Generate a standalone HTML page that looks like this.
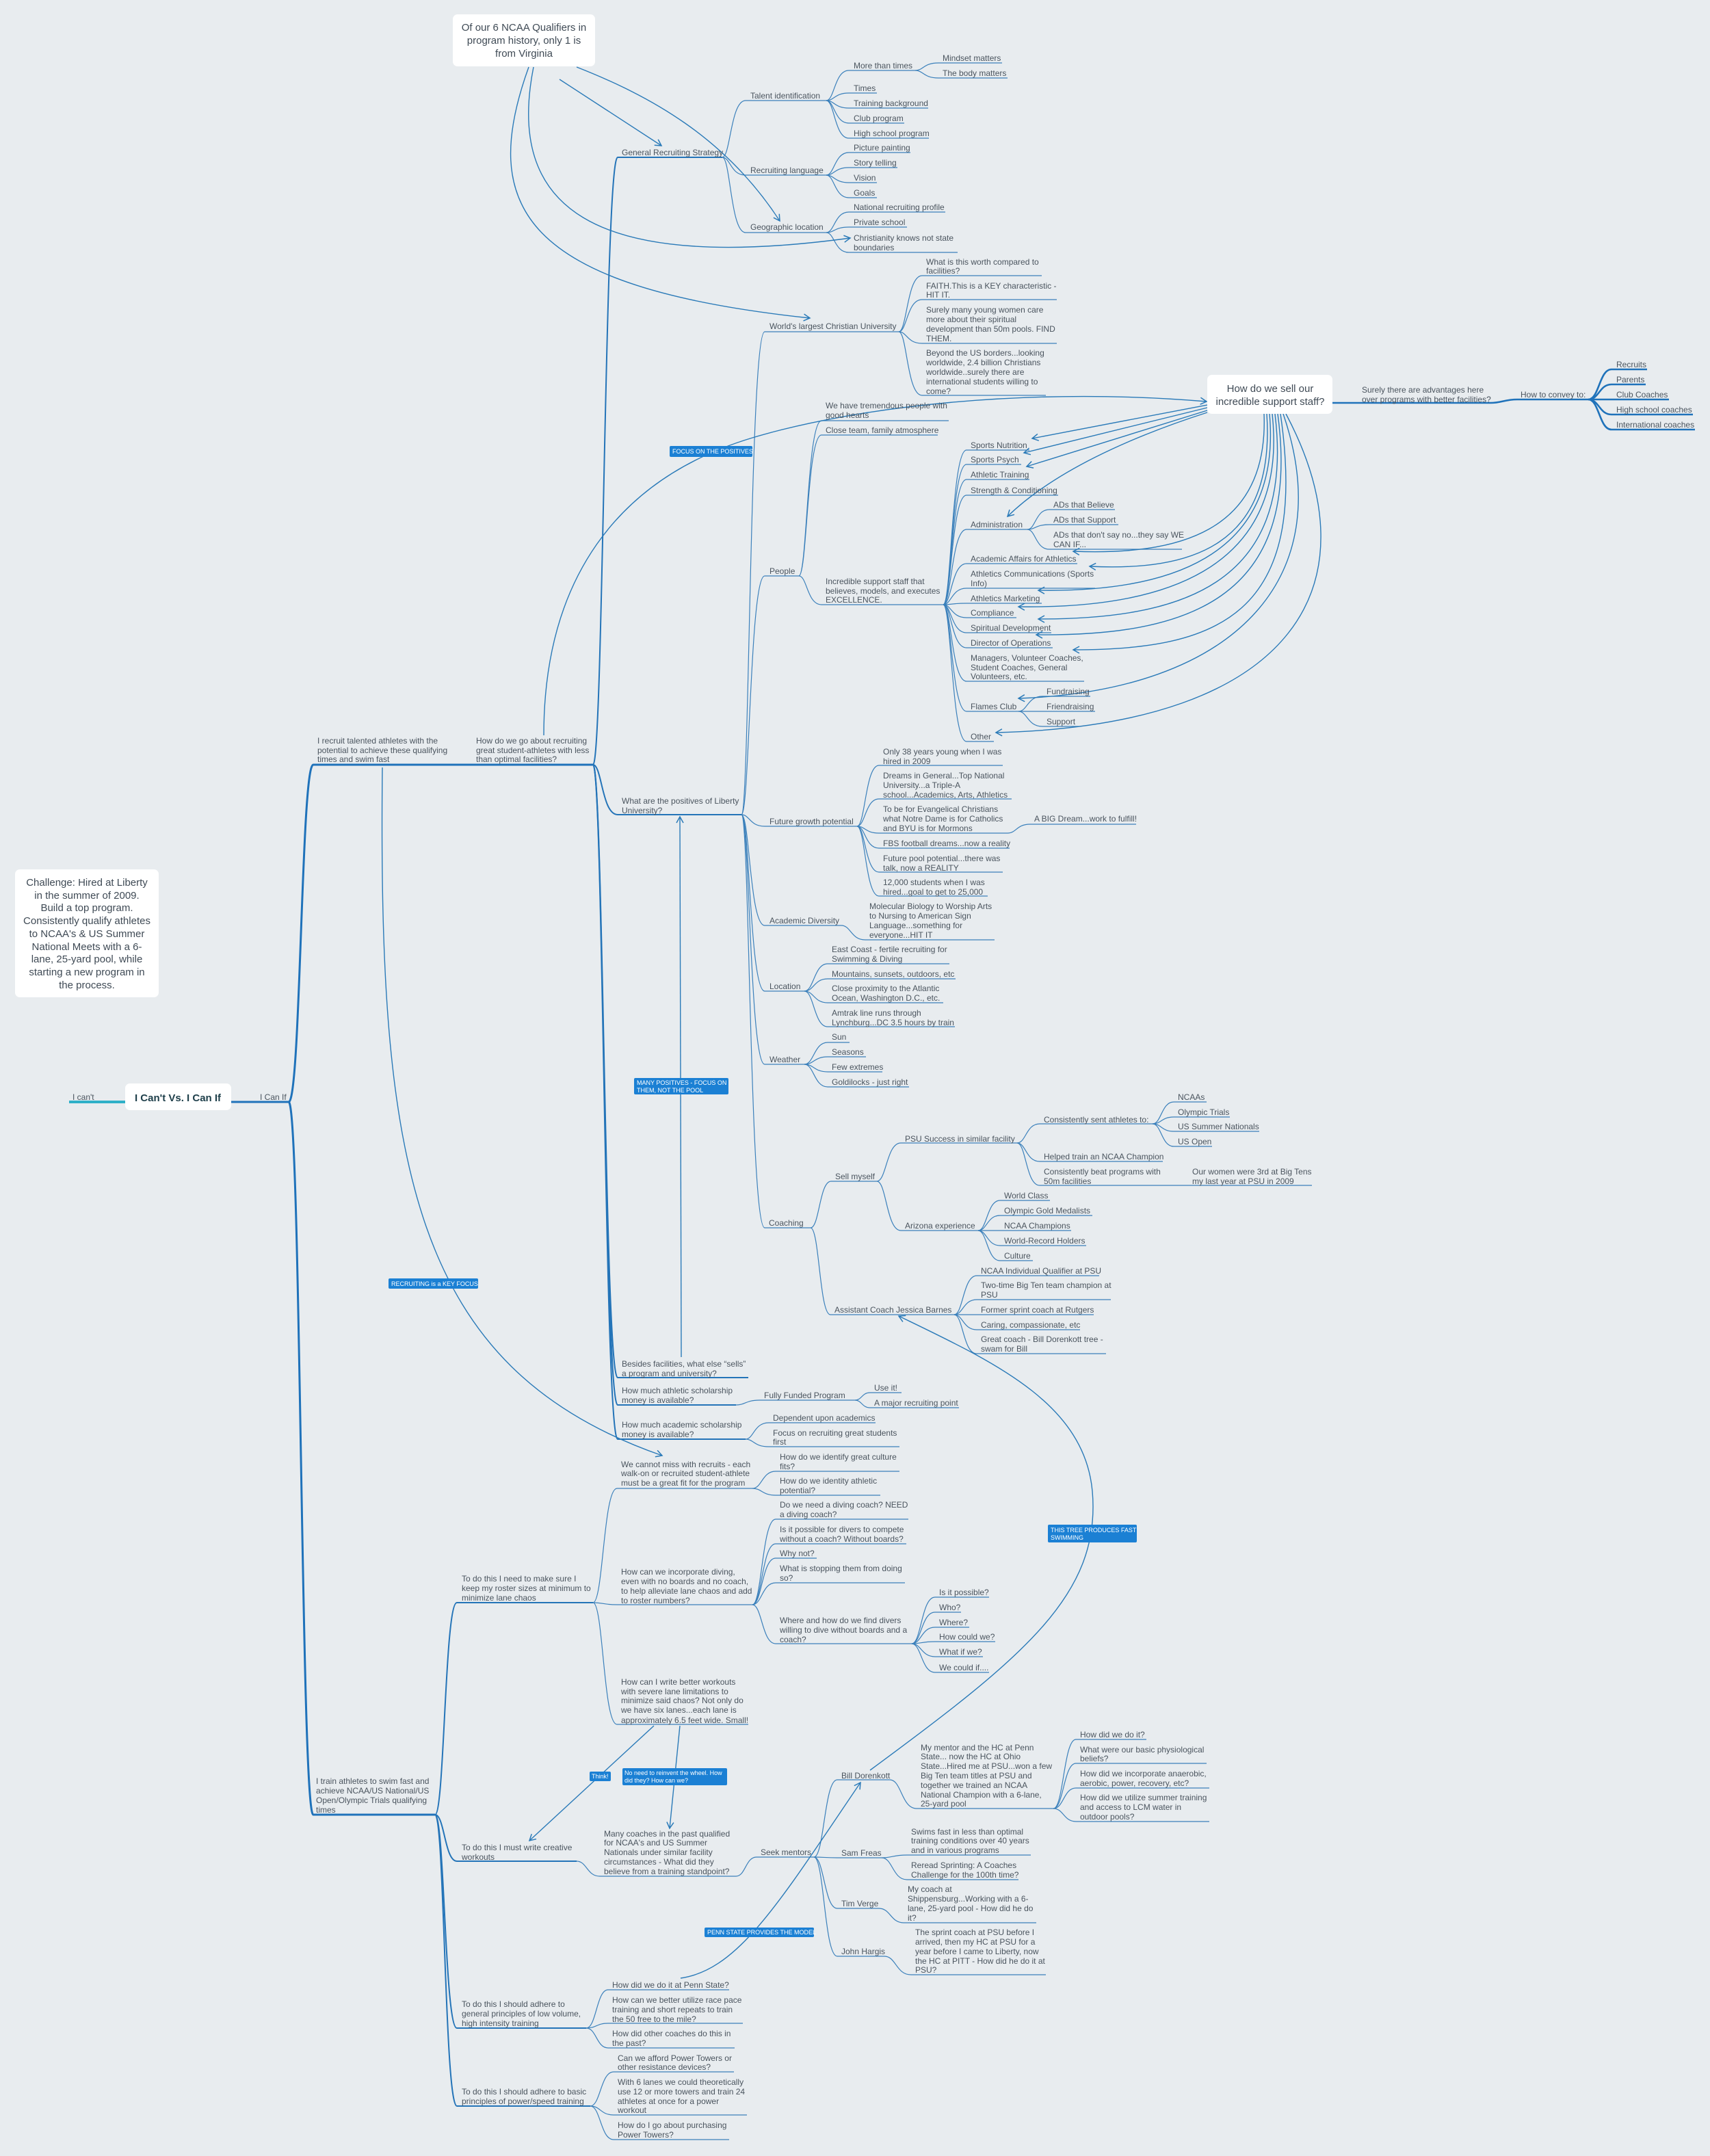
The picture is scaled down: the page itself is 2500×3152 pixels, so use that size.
<!DOCTYPE html>
<html><head><meta charset="utf-8"><style>
html,body{margin:0;padding:0;background:#e8ecef;}
svg{display:block}
.t{font-family:"Liberation Sans",Arial,sans-serif;font-size:12px;fill:#4a545e}
.l{fill:none;stroke:#3b80bb;stroke-width:1.2}
.m{fill:none;stroke:#2474b8;stroke-width:2}
.k{fill:none;stroke:#1f72ba;stroke-width:3}
.a{fill:none;stroke:#2a7ab8;stroke-width:1.4;marker-end:url(#ar)}
.tag{fill:#1b80d4}
.tt{font-family:"Liberation Sans",Arial,sans-serif;font-size:9px;fill:#fff}
.bx{fill:#fff}
.bt{font-family:"Liberation Sans",Arial,sans-serif;font-size:15px;fill:#3f4a55}
</style></head><body>
<svg width="2500" height="3152" viewBox="0 0 2500 3152" xmlns="http://www.w3.org/2000/svg">
<defs><marker id="ar" viewBox="0 0 12 12" refX="10" refY="6" markerWidth="12" markerHeight="12" markerUnits="userSpaceOnUse" orient="auto"><path d="M1,1 L10,6 L1,11" fill="none" stroke="#2a7ab8" stroke-width="1.5"/></marker></defs>
<rect width="2500" height="3152" fill="#e8ecef"/>

<!-- trunk -->
<path d="M101 1611 H183" stroke="#2eb0c8" stroke-width="4" fill="none"/>
<path class="k" d="M338 1611 H422"/>
<path class="k" d="M422 1611 C440 1611 440 1118 458 1118 H867"/>
<path class="k" d="M422 1611 C440 1611 440 2653 458 2653 H636"/>

<!-- level 2 from How do we go about -->
<path class="m" d="M867 1118 C882 1118 884 230 903 230 H1056"/>
<path class="m" d="M867 1118 C880 1118 880 1191 903 1191 H1084"/>
<path class="m" d="M867 1118 C882 1118 884 2014 903 2014 H1094"/>
<path class="m" d="M867 1118 C882 1118 884 2054 903 2054 H1076"/>
<path class="m" d="M867 1118 C882 1118 884 2104 903 2104 H1090"/>

<!-- GRS subtree -->
<g class="l">
<path d="M1056 230 C1068 230 1068 147 1090 147 H1208"/>
<path d="M1056 230 C1068 230 1068 256 1090 256 H1208"/>
<path d="M1056 230 C1068 230 1068 340 1090 340 H1208"/>
<path d="M1208 147 C1220 147 1220 103 1241 103 H1338"/>
<path d="M1208 147 C1220 147 1220 136 1241 136 H1282"/>
<path d="M1208 147 C1220 147 1220 158 1241 158 H1357"/>
<path d="M1208 147 C1220 147 1220 180 1241 180 H1322"/>
<path d="M1208 147 C1220 147 1220 202 1241 202 H1358"/>
<path d="M1338 103 C1350 103 1350 92 1372 92 H1465"/>
<path d="M1338 103 C1350 103 1350 114 1372 114 H1473"/>
<path d="M1208 256 C1220 256 1220 223 1241 223 H1331"/>
<path d="M1208 256 C1220 256 1220 245 1241 245 H1312"/>
<path d="M1208 256 C1220 256 1220 267 1241 267 H1282"/>
<path d="M1208 256 C1220 256 1220 289 1241 289 H1282"/>
<path d="M1208 340 C1220 340 1220 310 1241 310 H1382"/>
<path d="M1208 340 C1220 340 1220 332 1241 332 H1326"/>
<path d="M1208 340 C1220 340 1220 369 1241 369 H1400"/>
</g>

<!-- Positives subtree -->
<g class="l">
<path d="M1084 1191 C1096 1191 1096 485 1118 485 H1314"/>
<path d="M1084 1191 C1096 1191 1096 842 1118 842 H1168"/>
<path d="M1084 1191 C1096 1191 1096 1208 1118 1208 H1253"/>
<path d="M1084 1191 C1096 1191 1096 1353 1118 1353 H1230"/>
<path d="M1084 1191 C1096 1191 1096 1449 1118 1449 H1176"/>
<path d="M1084 1191 C1096 1191 1096 1556 1118 1556 H1176"/>
<path d="M1084 1191 C1096 1191 1096 1795 1118 1795 H1185"/>
<path d="M1314 485 C1326 485 1326 403 1348 403 H1523"/>
<path d="M1314 485 C1326 485 1326 438 1348 438 H1545"/>
<path d="M1314 485 C1326 485 1326 502 1348 502 H1545"/>
<path d="M1314 485 C1326 485 1326 578 1348 578 H1529"/>
<path d="M1168 842 C1180 842 1180 615 1201 615 H1387"/>
<path d="M1168 842 C1180 842 1180 636 1201 636 H1371"/>
<path d="M1168 842 C1180 842 1180 884 1201 884 H1379"/>
<path d="M1379 884 C1391 884 1391 658 1413 658 H1505"/>
<path d="M1379 884 C1391 884 1391 679 1413 679 H1493"/>
<path d="M1379 884 C1391 884 1391 701 1413 701 H1505"/>
<path d="M1379 884 C1391 884 1391 724 1413 724 H1547"/>
<path d="M1379 884 C1391 884 1391 774 1413 774 H1502"/>
<path d="M1379 884 C1391 884 1391 824 1413 824 H1575"/>
<path d="M1379 884 C1391 884 1391 860 1413 860 H1601"/>
<path d="M1379 884 C1391 884 1391 882 1413 882 H1523"/>
<path d="M1379 884 C1391 884 1391 903 1413 903 H1486"/>
<path d="M1379 884 C1391 884 1391 925 1413 925 H1537"/>
<path d="M1379 884 C1391 884 1391 947 1413 947 H1539"/>
<path d="M1379 884 C1391 884 1391 996 1413 996 H1585"/>
<path d="M1379 884 C1391 884 1391 1040 1413 1040 H1489"/>
<path d="M1379 884 C1391 884 1391 1084 1413 1084 H1453"/>
<path d="M1502 774 C1514 774 1514 745 1534 745 H1630"/>
<path d="M1502 774 C1514 774 1514 767 1534 767 H1635"/>
<path d="M1502 774 C1514 774 1514 803 1534 803 H1728"/>
<path d="M1489 1040 C1502 1040 1502 1018 1524 1018 H1594"/>
<path d="M1489 1040 C1502 1040 1502 1040 1524 1040 H1601"/>
<path d="M1489 1040 C1502 1040 1502 1062 1524 1062 H1577"/>
<path d="M1253 1208 C1265 1208 1265 1119 1285 1119 H1466"/>
<path d="M1253 1208 C1265 1208 1265 1168 1285 1168 H1479"/>
<path d="M1253 1208 C1265 1208 1265 1218 1285 1218 H1473"/>
<path d="M1253 1208 C1265 1208 1265 1240 1285 1240 H1476"/>
<path d="M1253 1208 C1265 1208 1265 1275 1285 1275 H1466"/>
<path d="M1253 1208 C1265 1208 1265 1310 1285 1310 H1444"/>
<path d="M1473 1218 C1486 1218 1486 1205 1506 1205 H1661"/>
<path d="M1230 1353 C1244 1353 1244 1374 1265 1374 H1454"/>
<path d="M1176 1449 C1190 1449 1190 1409 1210 1409 H1388"/>
<path d="M1176 1449 C1190 1449 1190 1431 1210 1431 H1397"/>
<path d="M1176 1449 C1190 1449 1190 1466 1210 1466 H1379"/>
<path d="M1176 1449 C1190 1449 1190 1501 1210 1501 H1396"/>
<path d="M1176 1556 C1190 1556 1190 1524 1210 1524 H1242"/>
<path d="M1176 1556 C1190 1556 1190 1545 1210 1545 H1266"/>
<path d="M1176 1556 C1190 1556 1190 1567 1210 1567 H1290"/>
<path d="M1176 1556 C1190 1556 1190 1589 1210 1589 H1329"/>
<path d="M1185 1795 C1198 1795 1198 1727 1215 1727 H1282"/>
<path d="M1185 1795 C1198 1795 1198 1922 1214 1922 H1395"/>
<path d="M1282 1727 C1296 1727 1296 1671 1317 1671 H1487"/>
<path d="M1282 1727 C1296 1727 1296 1799 1317 1799 H1430"/>
<path d="M1487 1671 C1500 1671 1500 1643 1520 1643 H1685"/>
<path d="M1487 1671 C1500 1671 1500 1698 1520 1698 H1700"/>
<path d="M1487 1671 C1500 1671 1500 1733 1520 1733 H1918"/>
<path d="M1685 1643 C1698 1643 1698 1611 1716 1611 H1764"/>
<path d="M1685 1643 C1698 1643 1698 1633 1716 1633 H1798"/>
<path d="M1685 1643 C1698 1643 1698 1654 1716 1654 H1841"/>
<path d="M1685 1643 C1698 1643 1698 1676 1716 1676 H1772"/>
<path d="M1430 1799 C1443 1799 1443 1755 1462 1755 H1535"/>
<path d="M1430 1799 C1443 1799 1443 1777 1462 1777 H1597"/>
<path d="M1430 1799 C1443 1799 1443 1799 1462 1799 H1566"/>
<path d="M1430 1799 C1443 1799 1443 1821 1462 1821 H1588"/>
<path d="M1430 1799 C1443 1799 1443 1843 1462 1843 H1510"/>
<path d="M1395 1922 C1408 1922 1408 1865 1428 1865 H1607"/>
<path d="M1395 1922 C1408 1922 1408 1900 1428 1900 H1624"/>
<path d="M1395 1922 C1408 1922 1408 1922 1428 1922 H1599"/>
<path d="M1395 1922 C1408 1922 1408 1944 1428 1944 H1579"/>
<path d="M1395 1922 C1408 1922 1408 1979 1428 1979 H1617"/>
<path d="M1076 2054 C1090 2054 1090 2047 1110 2047 H1250"/>
<path d="M1250 2047 C1260 2047 1260 2036 1272 2036 H1318"/>
<path d="M1250 2047 C1260 2047 1260 2058 1272 2058 H1402"/>
<path d="M1090 2104 C1102 2104 1102 2080 1124 2080 H1280"/>
<path d="M1090 2104 C1102 2104 1102 2115 1124 2115 H1315"/>
</g>

<!-- I train subtree -->
<g class="m">
<path d="M636 2653 C650 2653 650 2343 668 2343 H867"/>
<path d="M636 2653 C650 2653 650 2721 668 2721 H843"/>
<path d="M636 2653 C650 2653 650 2965 668 2965 H857"/>
<path d="M636 2653 C650 2653 650 3079 668 3079 H863"/>
</g>
<g class="l">
<path d="M867 2343 C882 2343 882 2176 902 2176 H1100"/>
<path d="M867 2343 C882 2343 882 2346 902 2346 H1100"/>
<path d="M867 2343 C882 2343 882 2521 902 2521 H1094"/>
<path d="M1100 2176 C1114 2176 1114 2151 1134 2151 H1315"/>
<path d="M1100 2176 C1114 2176 1114 2186 1134 2186 H1287"/>
<path d="M1100 2346 C1114 2346 1114 2221 1134 2221 H1328"/>
<path d="M1100 2346 C1114 2346 1114 2257 1134 2257 H1325"/>
<path d="M1100 2346 C1114 2346 1114 2278 1134 2278 H1194"/>
<path d="M1100 2346 C1114 2346 1114 2314 1134 2314 H1323"/>
<path d="M1100 2346 C1114 2346 1114 2403 1134 2403 H1333"/>
<path d="M1333 2403 C1347 2403 1347 2335 1367 2335 H1446"/>
<path d="M1333 2403 C1347 2403 1347 2357 1367 2357 H1405"/>
<path d="M1333 2403 C1347 2403 1347 2379 1367 2379 H1417"/>
<path d="M1333 2403 C1347 2403 1347 2400 1367 2400 H1455"/>
<path d="M1333 2403 C1347 2403 1347 2422 1367 2422 H1437"/>
<path d="M1333 2403 C1347 2403 1347 2445 1367 2445 H1446"/>
<path d="M843 2721 C858 2721 858 2743 877 2743 H1076"/>
<path d="M1076 2743 C1090 2743 1090 2715 1106 2715 H1190"/>
<path d="M1190 2715 C1205 2715 1205 2602 1224 2602 H1301"/>
<path d="M1190 2715 C1205 2715 1205 2716 1224 2716 H1289"/>
<path d="M1190 2715 C1205 2715 1205 2790 1224 2790 H1285"/>
<path d="M1190 2715 C1205 2715 1205 2860 1224 2860 H1293"/>
<path d="M1301 2602 C1318 2602 1318 2644 1340 2644 H1540"/>
<path d="M1540 2644 C1555 2644 1555 2543 1573 2543 H1676"/>
<path d="M1540 2644 C1555 2644 1555 2578 1573 2578 H1764"/>
<path d="M1540 2644 C1555 2644 1555 2614 1573 2614 H1768"/>
<path d="M1540 2644 C1555 2644 1555 2663 1573 2663 H1768"/>
<path d="M1289 2716 C1305 2716 1305 2712 1326 2712 H1507"/>
<path d="M1289 2716 C1305 2716 1305 2748 1326 2748 H1489"/>
<path d="M1285 2790 C1302 2790 1302 2811 1321 2811 H1515"/>
<path d="M1293 2860 C1310 2860 1310 2887 1332 2887 H1529"/>
<path d="M857 2965 C872 2965 872 2909 889 2909 H1066"/>
<path d="M857 2965 C872 2965 872 2958 889 2958 H1086"/>
<path d="M857 2965 C872 2965 872 2994 889 2994 H1074"/>
<path d="M863 3079 C878 3079 878 3029 897 3029 H1073"/>
<path d="M863 3079 C878 3079 878 3092 897 3092 H1092"/>
<path d="M863 3079 C878 3079 878 3128 897 3128 H1066"/>
</g>

<!-- sell subtree -->
<g class="k" style="stroke-width:2.6">
<path d="M1948 589 H2179 C2195 589 2200 584 2218 584 H2322"/>
<path d="M2322 584 C2338 584 2338 540 2356 540 H2408"/>
<path d="M2322 584 C2338 584 2338 562 2356 562 H2406"/>
<path d="M2322 584 H2440"/>
<path d="M2322 584 C2338 584 2338 606 2356 606 H2475"/>
<path d="M2322 584 C2338 584 2338 628 2356 628 H2478"/>
</g>

<!-- arrows -->
<g class="a">
<path d="M818 116 L967 213"/>
<path d="M843 98 C950 140 1060 200 1140 323"/>
<path d="M780 98 C740 300 860 400 1243 348"/>
<path d="M773 98 C700 300 760 420 1184 465"/>
<path d="M795 1075 C795 850 900 700 1100 640 C1250 595 1500 565 1764 587"/>
<path d="M1765 592 L1509 641"/>
<path d="M1765 596 L1497 662"/>
<path d="M1765 600 L1501 682"/>
<path d="M1765 603 C1650 640 1540 690 1473 755"/>
<path d="M1848 605 C1855 780 1720 812 1569 806"/>
<path d="M1852 605 C1865 800 1740 835 1593 828"/>
<path d="M1856 605 C1875 820 1700 866 1518 863"/>
<path d="M1860 605 C1885 840 1690 890 1489 887"/>
<path d="M1864 605 C1895 860 1720 905 1518 905"/>
<path d="M1868 605 C1905 880 1730 930 1515 928"/>
<path d="M1872 605 C1915 900 1780 950 1569 950"/>
<path d="M1876 605 C1960 850 1800 1010 1489 1021"/>
<path d="M1880 605 C2010 850 1900 1060 1456 1071"/>
<path d="M996 1984 L994 1194"/>
<path d="M559 1122 C553 1700 600 2000 968 2128"/>
<path d="M956 2523 L774 2691"/>
<path d="M994 2523 L979 2673"/>
<path d="M995 2892 C1080 2880 1140 2780 1258 2606"/>
<path d="M1272 2588 C1500 2420 1610 2330 1597 2180 C1585 2050 1450 1990 1314 1924"/>
</g>

<!-- boxes -->
<rect class="bx" x="662" y="21" width="208" height="76" rx="7"/>
<text class="bt" text-anchor="middle"><tspan x="766" y="45">Of our 6 NCAA Qualifiers in</tspan><tspan x="766" y="64">program history, only 1 is</tspan><tspan x="766" y="83">from Virginia</tspan></text>
<rect class="bx" x="1765" y="548" width="183" height="57" rx="7"/>
<text class="bt" text-anchor="middle"><tspan x="1857" y="573">How do we sell our</tspan><tspan x="1857" y="592">incredible support staff?</tspan></text>
<rect class="bx" x="183" y="1584" width="155" height="39" rx="7"/>
<text x="260" y="1610" text-anchor="middle" style="font-family:'Liberation Sans',Arial,sans-serif;font-size:15px;font-weight:bold;fill:#1e3f4a">I Can't Vs. I Can If</text>
<rect class="bx" x="22" y="1271" width="210" height="187" rx="7"/>
<text class="bt" text-anchor="middle"><tspan x="127" y="1295">Challenge: Hired at Liberty</tspan><tspan x="127" y="1314">in the summer of 2009.</tspan><tspan x="127" y="1332">Build a top program.</tspan><tspan x="127" y="1351">Consistently qualify athletes</tspan><tspan x="127" y="1370">to NCAA's &amp; US Summer</tspan><tspan x="127" y="1389">National Meets with a 6-</tspan><tspan x="127" y="1407">lane, 25-yard pool, while</tspan><tspan x="127" y="1426">starting a new program in</tspan><tspan x="127" y="1445">the process.</tspan></text>

<!-- tags -->
<rect class="tag" x="979" y="652" width="121" height="16" rx="2"/><text class="tt" x="983" y="663">FOCUS ON THE POSITIVES</text>
<rect class="tag" x="927" y="1576" width="138" height="24" rx="2"/><text class="tt"><tspan x="931" y="1586">MANY POSITIVES - FOCUS ON</tspan><tspan x="931" y="1597">THEM, NOT THE POOL</tspan></text>
<rect class="tag" x="568" y="1869" width="131" height="15" rx="2"/><text class="tt" x="572" y="1880">RECRUITING is a KEY FOCUS</text>
<rect class="tag" x="1532" y="2229" width="130" height="26" rx="2"/><text class="tt"><tspan x="1536" y="2240">THIS TREE PRODUCES FAST</tspan><tspan x="1536" y="2251">SWIMMING</tspan></text>
<rect class="tag" x="862" y="2590" width="31" height="14" rx="2"/><text class="tt" x="865" y="2600">Think!</text>
<rect class="tag" x="910" y="2585" width="153" height="25" rx="2"/><text class="tt"><tspan x="913" y="2595">No need to reinvent the wheel. How</tspan><tspan x="913" y="2606">did they? How can we?</tspan></text>
<rect class="tag" x="1030" y="2818" width="160" height="14" rx="2"/><text class="tt" x="1034" y="2828">PENN STATE PROVIDES THE MODEL</text>

<!-- texts -->
<g class="t">
<text x="106" y="1608">I can't</text>
<text x="380" y="1608">I Can If</text>
<text><tspan x="464" y="1087">I recruit talented athletes with the</tspan><tspan x="464" y="1101">potential to achieve these qualifying</tspan><tspan x="464" y="1114">times and swim fast</tspan></text>
<text><tspan x="696" y="1087">How do we go about recruiting</tspan><tspan x="696" y="1101">great student-athletes with less</tspan><tspan x="696" y="1114">than optimal facilities?</tspan></text>
<text x="909" y="227">General Recruiting Strategy</text>
<text x="1097" y="144">Talent identification</text>
<text x="1097" y="253">Recruiting language</text>
<text x="1097" y="336">Geographic location</text>
<text x="1248" y="100">More than times</text>
<text x="1378" y="89">Mindset matters</text>
<text x="1378" y="111">The body matters</text>
<text x="1248" y="133">Times</text>
<text x="1248" y="155">Training background</text>
<text x="1248" y="177">Club program</text>
<text x="1248" y="199">High school program</text>
<text x="1248" y="220">Picture painting</text>
<text x="1248" y="242">Story telling</text>
<text x="1248" y="264">Vision</text>
<text x="1248" y="286">Goals</text>
<text x="1248" y="307">National recruiting profile</text>
<text x="1248" y="329">Private school</text>
<text><tspan x="1248" y="352">Christianity knows not state</tspan><tspan x="1248" y="366">boundaries</tspan></text>
<text x="1125" y="481">World's largest Christian University</text>
<text><tspan x="1354" y="387">What is this worth compared to</tspan><tspan x="1354" y="400">facilities?</tspan></text>
<text><tspan x="1354" y="422">FAITH.This is a KEY characteristic -</tspan><tspan x="1354" y="435">HIT IT.</tspan></text>
<text><tspan x="1354" y="457">Surely many young women care</tspan><tspan x="1354" y="471">more about their spiritual</tspan><tspan x="1354" y="485">development than 50m pools. FIND</tspan><tspan x="1354" y="499">THEM.</tspan></text>
<text><tspan x="1354" y="520">Beyond the US borders...looking</tspan><tspan x="1354" y="534">worldwide, 2.4 billion Christians</tspan><tspan x="1354" y="548">worldwide..surely there are</tspan><tspan x="1354" y="562">international students willing to</tspan><tspan x="1354" y="576">come?</tspan></text>
<text><tspan x="1207" y="597">We have tremendous people with</tspan><tspan x="1207" y="611">good hearts</tspan></text>
<text x="1207" y="633">Close team, family atmosphere</text>
<text x="1125" y="839">People</text>
<text><tspan x="1207" y="854">Incredible support staff that</tspan><tspan x="1207" y="868">believes, models, and executes</tspan><tspan x="1207" y="881">EXCELLENCE.</tspan></text>
<text x="1419" y="655">Sports Nutrition</text>
<text x="1419" y="676">Sports Psych</text>
<text x="1419" y="698">Athletic Training</text>
<text x="1419" y="721">Strength &amp; Conditioning</text>
<text x="1419" y="771">Administration</text>
<text x="1540" y="742">ADs that Believe</text>
<text x="1540" y="764">ADs that Support</text>
<text><tspan x="1540" y="786">ADs that don't say no...they say WE</tspan><tspan x="1540" y="800">CAN IF...</tspan></text>
<text x="1419" y="821">Academic Affairs for Athletics</text>
<text><tspan x="1419" y="843">Athletics Communications (Sports</tspan><tspan x="1419" y="857">Info)</tspan></text>
<text x="1419" y="879">Athletics Marketing</text>
<text x="1419" y="900">Compliance</text>
<text x="1419" y="922">Spiritual Development</text>
<text x="1419" y="944">Director of Operations</text>
<text><tspan x="1419" y="966">Managers, Volunteer Coaches,</tspan><tspan x="1419" y="980">Student Coaches, General</tspan><tspan x="1419" y="993">Volunteers, etc.</tspan></text>
<text x="1419" y="1037">Flames Club</text>
<text x="1530" y="1015">Fundraising</text>
<text x="1530" y="1037">Friendraising</text>
<text x="1530" y="1059">Support</text>
<text x="1419" y="1081">Other</text>
<text><tspan x="1991" y="574">Surely there are advantages here</tspan><tspan x="1991" y="588">over programs with better facilities?</tspan></text>
<text x="2223" y="581">How to convey to:</text>
<text x="2363" y="537">Recruits</text>
<text x="2363" y="559">Parents</text>
<text x="2363" y="581">Club Coaches</text>
<text x="2363" y="603">High school coaches</text>
<text x="2363" y="625">International coaches</text>
<text><tspan x="909" y="1175">What are the positives of Liberty</tspan><tspan x="909" y="1189">University?</tspan></text>
<text x="1125" y="1205">Future growth potential</text>
<text><tspan x="1291" y="1103">Only 38 years young when I was</tspan><tspan x="1291" y="1117">hired in 2009</tspan></text>
<text><tspan x="1291" y="1138">Dreams in General...Top National</tspan><tspan x="1291" y="1152">University...a Triple-A</tspan><tspan x="1291" y="1166">school...Academics, Arts, Athletics</tspan></text>
<text><tspan x="1291" y="1187">To be for Evangelical Christians</tspan><tspan x="1291" y="1201">what Notre Dame is for Catholics</tspan><tspan x="1291" y="1215">and BYU is for Mormons</tspan></text>
<text x="1512" y="1201">A BIG Dream...work to fulfill!</text>
<text x="1291" y="1237">FBS football dreams...now a reality</text>
<text><tspan x="1291" y="1259">Future pool potential...there was</tspan><tspan x="1291" y="1273">talk, now a REALITY</tspan></text>
<text><tspan x="1291" y="1294">12,000 students when I was</tspan><tspan x="1291" y="1308">hired...goal to get to 25,000</tspan></text>
<text x="1125" y="1350">Academic Diversity</text>
<text><tspan x="1271" y="1329">Molecular Biology to Worship Arts</tspan><tspan x="1271" y="1343">to Nursing to American Sign</tspan><tspan x="1271" y="1357">Language...something for</tspan><tspan x="1271" y="1371">everyone...HIT IT</tspan></text>
<text x="1125" y="1446">Location</text>
<text><tspan x="1216" y="1392">East Coast - fertile recruiting for</tspan><tspan x="1216" y="1406">Swimming &amp; Diving</tspan></text>
<text x="1216" y="1428">Mountains, sunsets, outdoors, etc</text>
<text><tspan x="1216" y="1449">Close proximity to the Atlantic</tspan><tspan x="1216" y="1463">Ocean, Washington D.C., etc.</tspan></text>
<text><tspan x="1216" y="1485">Amtrak line runs through</tspan><tspan x="1216" y="1499">Lynchburg...DC 3.5 hours by train</tspan></text>
<text x="1125" y="1553">Weather</text>
<text x="1216" y="1520">Sun</text>
<text x="1216" y="1542">Seasons</text>
<text x="1216" y="1564">Few extremes</text>
<text x="1216" y="1586">Goldilocks - just right</text>
<text x="1124" y="1792">Coaching</text>
<text x="1221" y="1724">Sell myself</text>
<text x="1323" y="1669">PSU Success in similar facility</text>
<text x="1526" y="1641">Consistently sent athletes to:</text>
<text x="1722" y="1608">NCAAs</text>
<text x="1722" y="1630">Olympic Trials</text>
<text x="1722" y="1651">US Summer Nationals</text>
<text x="1722" y="1673">US Open</text>
<text x="1526" y="1695">Helped train an NCAA Champion</text>
<text><tspan x="1526" y="1717">Consistently beat programs with</tspan><tspan x="1526" y="1731">50m facilities</tspan></text>
<text><tspan x="1743" y="1717">Our women were 3rd at Big Tens</tspan><tspan x="1743" y="1731">my last year at PSU in 2009</tspan></text>
<text x="1323" y="1796">Arizona experience</text>
<text x="1468" y="1752">World Class</text>
<text x="1468" y="1774">Olympic Gold Medalists</text>
<text x="1468" y="1796">NCAA Champions</text>
<text x="1468" y="1818">World-Record Holders</text>
<text x="1468" y="1840">Culture</text>
<text x="1220" y="1919">Assistant Coach Jessica Barnes</text>
<text x="1434" y="1862">NCAA Individual Qualifier at PSU</text>
<text><tspan x="1434" y="1883">Two-time Big Ten team champion at</tspan><tspan x="1434" y="1897">PSU</tspan></text>
<text x="1434" y="1919">Former sprint coach at Rutgers</text>
<text x="1434" y="1941">Caring, compassionate, etc</text>
<text><tspan x="1434" y="1962">Great coach - Bill Dorenkott tree -</tspan><tspan x="1434" y="1976">swam for Bill</tspan></text>
<text><tspan x="909" y="1998">Besides facilities, what else “sells”</tspan><tspan x="909" y="2012">a program and university?</tspan></text>
<text><tspan x="909" y="2037">How much athletic scholarship</tspan><tspan x="909" y="2051">money is available?</tspan></text>
<text x="1117" y="2044">Fully Funded Program</text>
<text x="1278" y="2033">Use it!</text>
<text x="1278" y="2055">A major recruiting point</text>
<text><tspan x="909" y="2087">How much academic scholarship</tspan><tspan x="909" y="2101">money is available?</tspan></text>
<text x="1130" y="2077">Dependent upon academics</text>
<text><tspan x="1130" y="2099">Focus on recruiting great students</tspan><tspan x="1130" y="2112">first</tspan></text>
<text><tspan x="462" y="2608">I train athletes to swim fast and</tspan><tspan x="462" y="2622">achieve NCAA/US National/US</tspan><tspan x="462" y="2636">Open/Olympic Trials qualifying</tspan><tspan x="462" y="2650">times</tspan></text>
<text><tspan x="675" y="2312">To do this I need to make sure I</tspan><tspan x="675" y="2326">keep my roster sizes at minimum to</tspan><tspan x="675" y="2340">minimize lane chaos</tspan></text>
<text><tspan x="908" y="2145">We cannot miss with recruits - each</tspan><tspan x="908" y="2158">walk-on or recruited student-athlete</tspan><tspan x="908" y="2172">must be a great fit for the program</tspan></text>
<text><tspan x="1140" y="2134">How do we identify great culture</tspan><tspan x="1140" y="2148">fits?</tspan></text>
<text><tspan x="1140" y="2169">How do we identity athletic</tspan><tspan x="1140" y="2183">potential?</tspan></text>
<text><tspan x="908" y="2302">How can we incorporate diving,</tspan><tspan x="908" y="2316">even with no boards and no coach,</tspan><tspan x="908" y="2330">to help alleviate lane chaos and add</tspan><tspan x="908" y="2344">to roster numbers?</tspan></text>
<text><tspan x="1140" y="2204">Do we need a diving coach? NEED</tspan><tspan x="1140" y="2218">a diving coach?</tspan></text>
<text><tspan x="1140" y="2240">Is it possible for divers to compete</tspan><tspan x="1140" y="2254">without a coach? Without boards?</tspan></text>
<text x="1140" y="2275">Why not?</text>
<text><tspan x="1140" y="2297">What is stopping them from doing</tspan><tspan x="1140" y="2311">so?</tspan></text>
<text><tspan x="1140" y="2373">Where and how do we find divers</tspan><tspan x="1140" y="2387">willing to dive without boards and a</tspan><tspan x="1140" y="2401">coach?</tspan></text>
<text x="1373" y="2332">Is it possible?</text>
<text x="1373" y="2354">Who?</text>
<text x="1373" y="2376">Where?</text>
<text x="1373" y="2397">How could we?</text>
<text x="1373" y="2419">What if we?</text>
<text x="1373" y="2442">We could if....</text>
<text><tspan x="908" y="2463">How can I write better workouts</tspan><tspan x="908" y="2477">with severe lane limitations to</tspan><tspan x="908" y="2490">minimize said chaos? Not only do</tspan><tspan x="908" y="2504">we have six lanes...each lane is</tspan><tspan x="908" y="2519">approximately 6.5 feet wide. Small!</tspan></text>
<text><tspan x="675" y="2705">To do this I must write creative</tspan><tspan x="675" y="2719">workouts</tspan></text>
<text><tspan x="883" y="2685">Many coaches in the past qualified</tspan><tspan x="883" y="2698">for NCAA's and US Summer</tspan><tspan x="883" y="2712">Nationals under similar facility</tspan><tspan x="883" y="2726">circumstances - What did they</tspan><tspan x="883" y="2740">believe from a training standpoint?</tspan></text>
<text x="1112" y="2712">Seek mentors</text>
<text x="1230" y="2600">Bill Dorenkott</text>
<text><tspan x="1346" y="2559">My mentor and the HC at Penn</tspan><tspan x="1346" y="2572">State... now the HC at Ohio</tspan><tspan x="1346" y="2586">State...Hired me at PSU...won a few</tspan><tspan x="1346" y="2600">Big Ten team titles at PSU and</tspan><tspan x="1346" y="2614">together we trained an NCAA</tspan><tspan x="1346" y="2628">National Champion with a 6-lane,</tspan><tspan x="1346" y="2641">25-yard pool</tspan></text>
<text x="1579" y="2540">How did we do it?</text>
<text><tspan x="1579" y="2562">What were our basic physiological</tspan><tspan x="1579" y="2575">beliefs?</tspan></text>
<text><tspan x="1579" y="2597">How did we incorporate anaerobic,</tspan><tspan x="1579" y="2611">aerobic, power, recovery, etc?</tspan></text>
<text><tspan x="1579" y="2632">How did we utilize summer training</tspan><tspan x="1579" y="2646">and access to LCM water in</tspan><tspan x="1579" y="2660">outdoor pools?</tspan></text>
<text x="1230" y="2713">Sam Freas</text>
<text><tspan x="1332" y="2682">Swims fast in less than optimal</tspan><tspan x="1332" y="2695">training conditions over 40 years</tspan><tspan x="1332" y="2709">and in various programs</tspan></text>
<text><tspan x="1332" y="2731">Reread Sprinting: A Coaches</tspan><tspan x="1332" y="2745">Challenge for the 100th time?</tspan></text>
<text x="1230" y="2787">Tim Verge</text>
<text><tspan x="1327" y="2766">My coach at</tspan><tspan x="1327" y="2780">Shippensburg...Working with a 6-</tspan><tspan x="1327" y="2794">lane, 25-yard pool - How did he do</tspan><tspan x="1327" y="2808">it?</tspan></text>
<text x="1230" y="2857">John Hargis</text>
<text><tspan x="1338" y="2829">The sprint coach at PSU before I</tspan><tspan x="1338" y="2843">arrived, then my HC at PSU for a</tspan><tspan x="1338" y="2857">year before I came to Liberty, now</tspan><tspan x="1338" y="2871">the HC at PITT - How did he do it at</tspan><tspan x="1338" y="2884">PSU?</tspan></text>
<text><tspan x="675" y="2934">To do this I should adhere to</tspan><tspan x="675" y="2948">general principles of low volume,</tspan><tspan x="675" y="2962">high intensity training</tspan></text>
<text x="895" y="2906">How did we do it at Penn State?</text>
<text><tspan x="895" y="2928">How can we better utilize race pace</tspan><tspan x="895" y="2942">training and short repeats to train</tspan><tspan x="895" y="2956">the 50 free to the mile?</tspan></text>
<text><tspan x="895" y="2977">How did other coaches do this in</tspan><tspan x="895" y="2991">the past?</tspan></text>
<text><tspan x="675" y="3062">To do this I should adhere to basic</tspan><tspan x="675" y="3076">principles of power/speed training</tspan></text>
<text><tspan x="903" y="3013">Can we afford Power Towers or</tspan><tspan x="903" y="3026">other resistance devices?</tspan></text>
<text><tspan x="903" y="3048">With 6 lanes we could theoretically</tspan><tspan x="903" y="3062">use 12 or more towers and train 24</tspan><tspan x="903" y="3076">athletes at once for a power</tspan><tspan x="903" y="3089">workout</tspan></text>
<text><tspan x="903" y="3111">How do I go about purchasing</tspan><tspan x="903" y="3125">Power Towers?</tspan></text>
</g>
</svg>
</body></html>
